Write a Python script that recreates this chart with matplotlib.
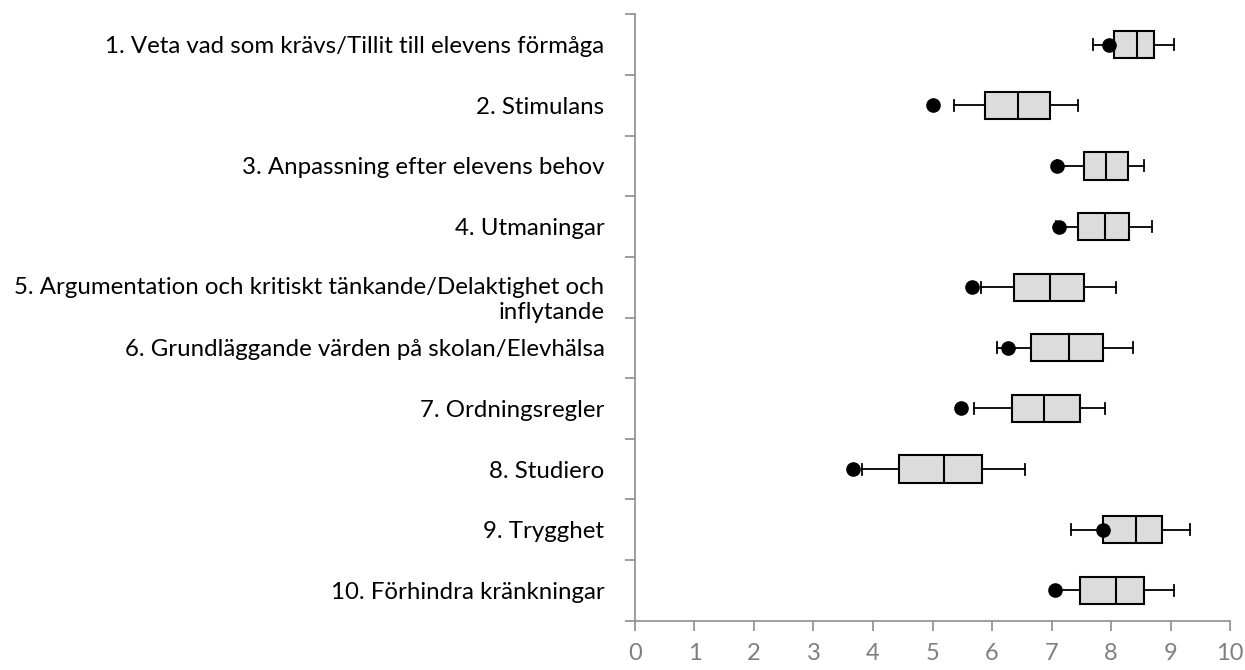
import matplotlib
matplotlib.use("Agg")
import matplotlib.pyplot as plt
import matplotlib.transforms as mtransforms
from matplotlib.ticker import FixedLocator

plt.rcParams["font.family"] = ["Lato", "DejaVu Sans"]

categories = [
    "1. Veta vad som krävs/Tillit till elevens förmåga",
    "2. Stimulans",
    "3. Anpassning efter elevens behov",
    "4. Utmaningar",
    "5. Argumentation och kritiskt tänkande/Delaktighet och\ninflytande",
    "6. Grundläggande värden på skolan/Elevhälsa",
    "7. Ordningsregler",
    "8. Studiero",
    "9. Trygghet",
    "10. Förhindra kränkningar",
]
whisker_low = [7.70, 5.36, 7.10, 7.08, 5.82, 6.09, 5.70, 3.82, 7.32, 7.02]
q1 = [8.05, 5.89, 7.54, 7.45, 6.37, 6.65, 6.33, 4.43, 7.87, 7.48]
median = [8.44, 6.43, 7.92, 7.90, 6.97, 7.29, 6.88, 5.19, 8.42, 8.08]
q3 = [8.73, 6.98, 8.28, 8.31, 7.55, 7.86, 7.48, 5.83, 8.85, 8.56]
whisker_high = [9.05, 7.45, 8.56, 8.69, 8.08, 8.37, 7.90, 6.56, 9.32, 9.05]
dots = [7.96, 5.00, 7.10, 7.13, 5.67, 6.27, 5.48, 3.67, 7.86, 7.06]

stats = [
    {"whislo": lo, "q1": a, "med": m, "q3": b, "whishi": hi, "fliers": []}
    for lo, a, m, b, hi in zip(whisker_low, q1, median, q3, whisker_high)
]
positions = list(range(1, len(categories) + 1))

fig = plt.figure(figsize=(12.45, 6.7), dpi=100)
ax = fig.add_axes([0.510, 0.0736, 0.478, 0.905])

ax.bxp(
    stats, positions=positions, vert=False, widths=0.45,
    patch_artist=True, showfliers=False,
    boxprops=dict(facecolor="#dcdcdc", edgecolor="black", linewidth=1.5),
    medianprops=dict(color="black", linewidth=1.5),
    whiskerprops=dict(color="black", linewidth=1.3),
    capprops=dict(color="black", linewidth=1.3),
    capwidths=0.18,
)
ax.plot(dots, positions, "o", color="black", markersize=9.5, zorder=5)

ax.set_xlim(0, 10)
ax.set_ylim(len(categories) + 0.5, 0.5)
ax.set_xticks(range(0, 11))

ax.yaxis.set_major_locator(FixedLocator(positions))
ax.set_yticklabels(categories, fontsize=17.3)
ax.yaxis.set_minor_locator(FixedLocator([p - 0.5 for p in positions] + [len(categories) + 0.5]))
ax.tick_params(axis="y", which="major", length=0, pad=22)
ax.tick_params(axis="y", which="minor", length=7, width=1.2, color="#8c8c8c")
ax.tick_params(axis="x", length=7, width=1.2, color="#8c8c8c", labelcolor="#7f7f7f",
               labelsize=17, pad=9)

# the wrapped label sits with its first line near the band centre
wrapped = ax.get_yticklabels()[4]
wrapped.set_linespacing(1.2)
wrapped.set_transform(wrapped.get_transform()
                      + mtransforms.ScaledTranslation(0, -0.09, fig.dpi_scale_trans))

for side in ["top", "right"]:
    ax.spines[side].set_visible(False)
for side in ["left", "bottom"]:
    ax.spines[side].set_color("#8c8c8c")
    ax.spines[side].set_linewidth(1.2)

fig.savefig("out.png", dpi=100)
